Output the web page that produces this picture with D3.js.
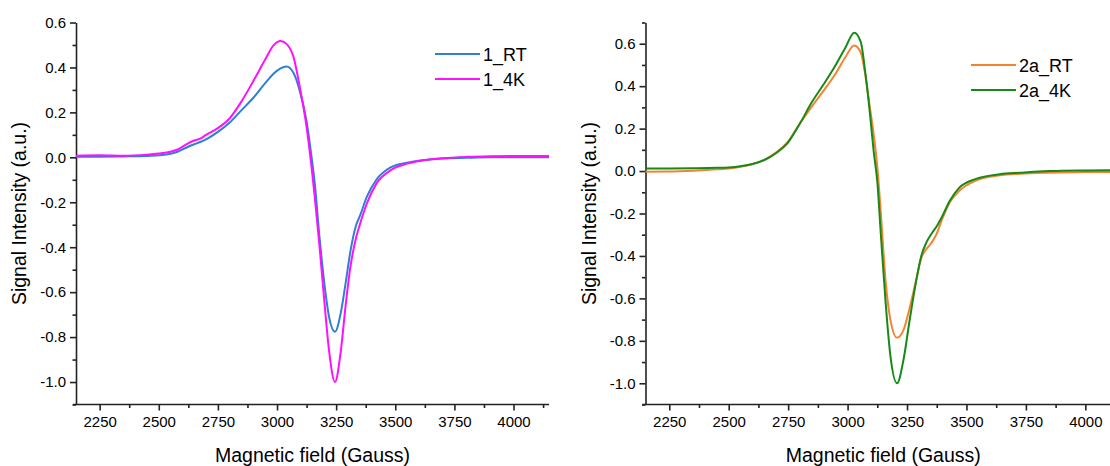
<!DOCTYPE html>
<html>
<head>
<meta charset="utf-8">
<script src="https://cdn.jsdelivr.net/npm/d3@7"></script>
<style>
  body { margin: 0; background: #fff; }
  svg { display: block; font-family: Arial, "Liberation Sans", sans-serif; }
</style>
</head>
<body>
<div id="chart"></div>
<script>
// field grids (Gauss) and spectra
const field1 = [2150, 2250, 2350, 2450, 2500, 2550, 2580, 2620, 2650, 2675, 2700, 2750, 2800, 2850, 2900, 2950, 2985, 3015, 3040, 3070, 3095, 3125, 3145, 3160, 3180, 3200, 3220, 3245, 3270, 3290, 3310, 3335, 3350, 3380, 3420, 3480, 3550, 3600, 3700, 3800, 3900, 4000, 4150]
const rt1 = [0.002, 0.003, 0.004, 0.006, 0.009, 0.016, 0.025, 0.045, 0.058, 0.068, 0.08, 0.113, 0.155, 0.21, 0.265, 0.33, 0.372, 0.396, 0.404, 0.375, 0.3, 0.16, 0.01, -0.12, -0.36, -0.56, -0.71, -0.776, -0.69, -0.56, -0.42, -0.3, -0.262, -0.175, -0.1, -0.045, -0.024, -0.015, -0.005, -0.002, 0, 0, 0]
const k4_1 = [0.007, 0.009, 0.007, 0.012, 0.017, 0.025, 0.035, 0.06, 0.075, 0.083, 0.1, 0.13, 0.174, 0.249, 0.34, 0.435, 0.498, 0.518, 0.505, 0.445, 0.32, 0.135, -0.035, -0.18, -0.4, -0.64, -0.86, -1.0, -0.86, -0.66, -0.49, -0.355, -0.3, -0.205, -0.117, -0.058, -0.028, -0.016, -0.004, 0.002, 0.005, 0.006, 0.006]

const field2 = [2150, 2250, 2350, 2450, 2500, 2550, 2600, 2650, 2700, 2750, 2800, 2850, 2900, 2950, 2990, 3028, 3055, 3075, 3095, 3110, 3125, 3140, 3160, 3180, 3208, 3235, 3260, 3285, 3310, 3330, 3355, 3375, 3395, 3430, 3470, 3540, 3640, 3725, 3850, 4000, 4150]
const rt2a = [-0.003, -0.002, 0.002, 0.008, 0.012, 0.02, 0.033, 0.053, 0.088, 0.14, 0.225, 0.305, 0.38, 0.46, 0.535, 0.592, 0.56, 0.45, 0.29, 0.17, 0.02, -0.2, -0.52, -0.7, -0.785, -0.75, -0.65, -0.53, -0.41, -0.37, -0.335, -0.295, -0.235, -0.147, -0.093, -0.045, -0.02, -0.013, -0.008, -0.005, -0.004]
const k4_2a = [0.012, 0.012, 0.013, 0.015, 0.017, 0.023, 0.033, 0.052, 0.085, 0.135, 0.225, 0.325, 0.41, 0.5, 0.58, 0.652, 0.61, 0.46, 0.26, 0.09, -0.05, -0.3, -0.62, -0.87, -1.0, -0.89, -0.71, -0.54, -0.4, -0.34, -0.292, -0.26, -0.22, -0.14, -0.078, -0.037, -0.015, -0.008, 0, 0.003, 0.004]

const xTicks = [2250, 2500, 2750, 3000, 3250, 3500, 3750, 4000]

const W = 1110, H = 466

const svg = d3.select('#chart')
  .append('svg')
  .attr('width', W)
  .attr('height', H)
  .style('overflow', 'hidden')

const panels = [
  {
    left: 76, right: 549, yDomain: [-1.1, 0.6],
    yTicks: [-1.0, -0.8, -0.6, -0.4, -0.2, 0.0, 0.2, 0.4, 0.6],
    field: field1,
    series: [
      { name: '1_RT', values: rt1, color: '#2f7ed8' },
      { name: '1_4K', values: k4_1, color: '#ff10ff' }
    ],
    legendX: 435, legendY: 54
  },
  {
    left: 645.5, right: 1121, yDomain: [-1.1, 0.7],
    yTicks: [-1.0, -0.8, -0.6, -0.4, -0.2, 0.0, 0.2, 0.4, 0.6],
    field: field2,
    series: [
      { name: '2a_RT', values: rt2a, color: '#f58231' },
      { name: '2a_4K', values: k4_2a, color: '#168a16' }
    ],
    legendX: 971, legendY: 65
  }
]

const plotTop = 22.5, plotBottom = 404.5

panels.forEach(drawPanel)

function drawPanel(p) {
  const x = d3.scaleLinear().domain([2150, 4150]).range([p.left, p.right])
  const y = d3.scaleLinear().domain(p.yDomain).range([plotBottom, plotTop])

  const g = svg.append('g')

  // minor ticks first, major ticks drawn on top
  const xMinor = d3.range(2375, 4150, 250)
  g.append('g')
    .attr('transform', 'translate(0,' + plotBottom + ')')
    .call(d3.axisBottom(x).tickValues(xMinor).tickSize(3.5).tickFormat(''))
    .call(a => a.select('.domain').remove())

  const yMinor = d3.range(p.yDomain[0], p.yDomain[1] + 0.001, 0.1)
    .map(v => Math.round(v * 10) / 10)
    .filter(v => Math.round(v * 10) % 2 !== 0)
  g.append('g')
    .attr('transform', 'translate(' + p.left + ',0)')
    .call(d3.axisLeft(y).tickValues(yMinor).tickSize(3.5).tickFormat(''))
    .call(a => a.select('.domain').remove())

  const xAxis = g.append('g')
    .attr('transform', 'translate(0,' + plotBottom + ')')
    .call(d3.axisBottom(x).tickValues(xTicks).tickSize(6).tickPadding(6).tickSizeOuter(0)
      .tickFormat(d => String(d)))
  xAxis.selectAll('text').attr('font-size', 15).attr('fill', '#000').attr('font-family', 'Arial, Liberation Sans')

  const yAxis = g.append('g')
    .attr('transform', 'translate(' + p.left + ',0)')
    .call(d3.axisLeft(y).tickValues(p.yTicks).tickSize(6).tickPadding(4).tickSizeOuter(0)
      .tickFormat(d => d.toFixed(1)))
  yAxis.selectAll('text').attr('font-size', 15).attr('fill', '#000').attr('font-family', 'Arial, Liberation Sans')

  g.selectAll('.domain, .tick line').attr('stroke', '#222').attr('stroke-width', 1.6)
  xAxis.select('.domain').attr('d', 'M' + (p.left - 3) + ',0H' + p.right)

  // curves
  const line = d3.line()
    .x(d => x(d[0]))
    .y(d => y(d[1]))
    .curve(d3.curveMonotoneX)

  p.series.forEach(s => {
    const pts = p.field.map((f, i) => [f, s.values[i]])
    g.append('path')
      .datum(pts)
      .attr('fill', 'none')
      .attr('stroke', s.color)
      .attr('stroke-width', 2)
      .attr('d', line)
  })

  // axis titles
  g.append('text')
    .attr('x', (p.left + p.right) / 2)
    .attr('y', 462)
    .attr('text-anchor', 'middle')
    .attr('font-size', 19.5)
    .text('Magnetic field (Gauss)')

  g.append('text')
    .attr('transform', 'translate(' + (p.left - 50) + ',' + (plotTop + plotBottom) / 2 + ') rotate(-90)')
    .attr('text-anchor', 'middle')
    .attr('font-size', 19.5)
    .text('Signal Intensity (a.u.)')

  // legend
  p.series.forEach((s, i) => {
    const ly = p.legendY + i * 25
    g.append('line')
      .attr('x1', p.legendX).attr('x2', p.legendX + 45)
      .attr('y1', ly).attr('y2', ly)
      .attr('stroke', s.color).attr('stroke-width', 2)
    g.append('text')
      .attr('x', p.legendX + 48)
      .attr('y', ly + 6.5)
      .attr('font-size', 18)
      .text(s.name)
  })
}
</script>
</body>
</html>
